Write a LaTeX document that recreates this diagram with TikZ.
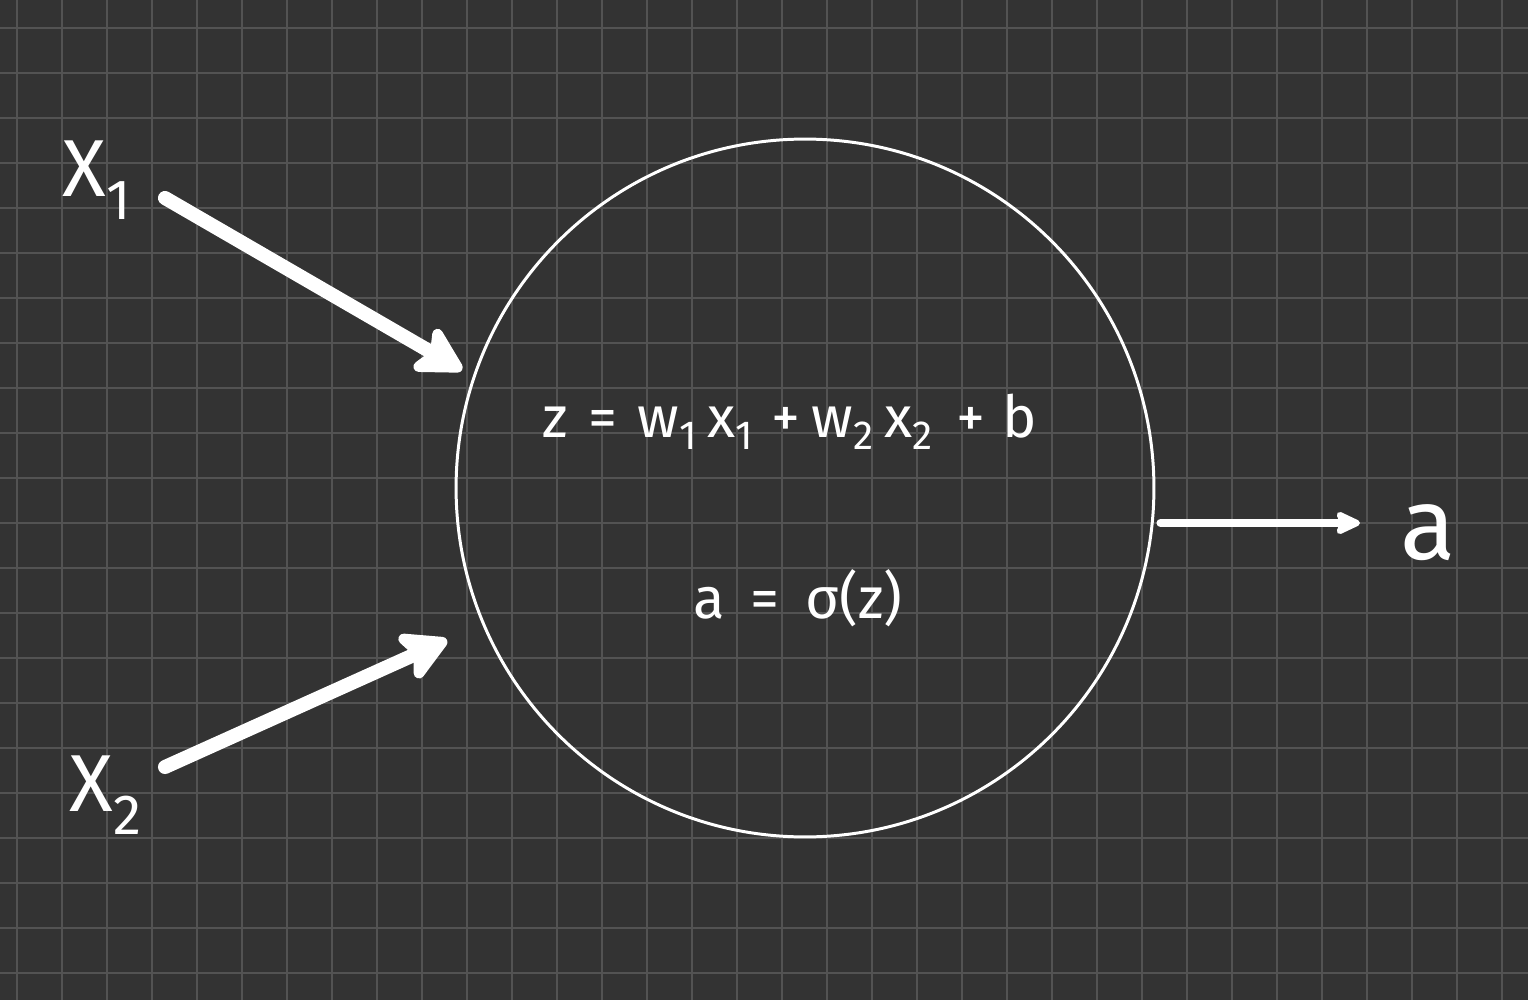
\documentclass[tikz,border=0pt]{standalone}
\usepackage{fontspec}
\setmainfont{Fira Sans}
\usetikzlibrary{arrows.meta, positioning, calc}
\definecolor{board}{HTML}{333333}
\definecolor{gridline}{HTML}{535353}
\tikzstyle{neuron} = [draw=white, circle, line width=1.7pt, minimum size=13.96cm, inner sep=0pt]
\tikzstyle{inputlbl} = [text=white, inner sep=0pt, font=\fontsize{46}{46}\selectfont]
\tikzstyle{formula} = [text=white, inner sep=0pt, font=\fontsize{33}{33}\selectfont]
\tikzstyle{bigarrow} = [white, line width=8pt, line cap=round, -{Stealth[round, length=1.1cm, width=1.2cm, inset=0.25cm]}]
\tikzstyle{outarrow} = [white, line width=4.5pt, line cap=round, -{Stealth[round, length=0.6cm, width=0.55cm, inset=0.12cm]}]

\begin{document}
\begin{tikzpicture}[x=0.02cm, y=-0.02cm]
    % board and grid
    \useasboundingbox (0,0) rectangle (1528,1000);
    \fill[board] (0,0) rectangle (1528,1000);
    \begin{scope}
        \clip (0,0) rectangle (1528,1000);
        \foreach \gx in {0,...,33} \draw[gridline, line width=1.1pt] (16.7+45*\gx,0) -- (16.7+45*\gx,1000);
        \foreach \gy in {0,...,21} \draw[gridline, line width=1.1pt] (0,28.3+45*\gy) -- (1528,28.3+45*\gy);
    \end{scope}

    \node (neuron) [neuron] at (805,488) {};
    \node (sum) [formula] at (790,422) {z\hspace{0.35em}=\hspace{0.35em}w\textsubscript{1}\,x\textsubscript{1}\hspace{0.3em}+\hspace{0.2em}w\textsubscript{2}\,x\textsubscript{2}\hspace{0.4em}+\hspace{0.3em}b};
    \node (act) [formula] at (798,598) {a\hspace{0.45em}=\hspace{0.45em}σ(z)};

    \node (x1) [inputlbl] at (97,180) {X\textsubscript{1}};
    \node (x2) [inputlbl] at (106,795) {X\textsubscript{2}};
    \node (out) [inputlbl, font=\fontsize{58}{58}\selectfont] at (1428,533) {a};

    \coordinate (in1) at (165,198);
    \coordinate (tip1) at (462,370);
    \coordinate (in2) at (165,767);
    \coordinate (tip2) at (447,640);
    \coordinate (tip3) at (1360,523);

    \draw [bigarrow] (in1) -- (tip1);
    \draw [bigarrow] (in2) -- (tip2);
    \draw [outarrow] (neuron.east |- tip3) ++(5,0) coordinate (o1) -- (tip3);
\end{tikzpicture}
\end{document}
